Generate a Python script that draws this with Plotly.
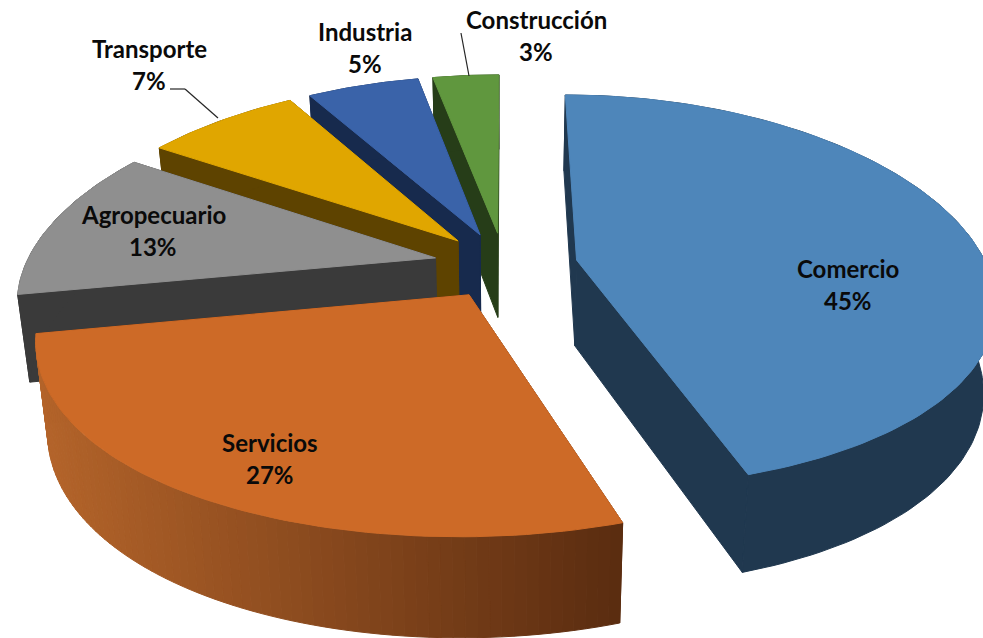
import numpy as np
import plotly.graph_objects as go

# Data
sectors = ["Comercio", "Servicios", "Agropecuario", "Transporte", "Industria", "Construcción"]
shares = [45.2, 26.8, 13.0, 7.0, 5.0, 3.0]
percent_labels = ["45%", "27%", "13%", "7%", "5%", "3%"]

# Styles
top_colors = ["#4e86ba", "#cd6a27", "#8f8f8f", "#e0a600", "#3a63a9", "#60973e"]
side_colors = ["#20384f", "#5a2c10", "#3a3a3a", "#5e4300", "#172a4d", "#263d18"]
wall_left_rgb = (180, 100, 42)
wall_right_rgb = (90, 44, 16)
paint_order = [5, 4, 3, 2, 0, 1]
label_xy = [(848, 268), (270, 442), (153, 214), (149, 48), (365, 31), (536, 19)]
LINE_GAP = 32
slice_nudge = [(5, 0), (3, 1), (0, 0), (0, 0), (0, 0), (1, 0)]

# Perspective camera of the tilted pie, in page pixels
CX, CY = 503, 265
AX, BY = 410, 193
KX, KY = 0.20, 0.16
DEPTH, KD = 86, 0.13
CONVERGE = 0.025
EXPLODE = 0.17
SKEW = np.radians(3.0)   # angular skew of the view rotation
SKEW_ZERO = np.radians(260)
TOP_TRIM = np.radians(1.0)


def view_angle(a):
    return (a + SKEW * np.sin(2 * (a - SKEW_ZERO) + np.pi)
            - TOP_TRIM * np.clip(np.cos(a), 0, 1) ** 40)


def project(x, y, z):
    x, y = np.asarray(x, float), np.asarray(y, float)
    sx = CX + AX * x / (1 + KX * y)
    sy = CY - BY * y / (1 + KY * y)
    if z:
        sx = CX + (sx - CX) * (1 - CONVERGE)
        sy = sy + DEPTH / (1 + KD * y)
    return sx, sy


def poly(fig, xs, ys, color, nudge):
    xs = [v + nudge[0] for v in xs]
    ys = [v + nudge[1] for v in ys]
    fig.add_trace(go.Scatter(
        x=xs + [xs[0]], y=ys + [ys[0]], mode="lines", fill="toself",
        fillcolor=color, line=dict(color=color, width=1), hoverinfo="skip", showlegend=False))


fig = go.Figure()
total = sum(shares)
edges = np.cumsum([0] + shares) / total * 2 * np.pi

for i in paint_order:
    a0, a1 = edges[i], edges[i + 1]
    mid = (a0 + a1) / 2
    ox, oy = EXPLODE * np.sin(mid), EXPLODE * np.cos(mid)
    t = view_angle(np.linspace(a0, a1, max(int(shares[i] * 3), 24)))
    ax_, ay_ = ox + np.sin(t), oy + np.cos(t)
    nudge = slice_nudge[i]

    # radial faces
    for k in (-1, 0):
        tx, ty = project([ox, ax_[k]], [oy, ay_[k]], 0)
        bx, by = project([ox, ax_[k]], [oy, ay_[k]], 1)
        poly(fig, [tx[0], tx[1], bx[1], bx[0]], [ty[0], ty[1], by[1], by[0]], side_colors[i], nudge)

    # outer wall
    tx, ty = project(ax_, ay_, 0)
    bx, by = project(ax_, ay_, 1)
    if sectors[i] == "Servicios":
        n = len(t) - 1
        lo, hi = tx.min(), tx.max()
        for j in range(n):
            f = ((tx[j] + tx[j + 1]) / 2 - lo) / (hi - lo)
            c = [round(wall_left_rgb[q] + (wall_right_rgb[q] - wall_left_rgb[q]) * f) for q in range(3)]
            poly(fig, [tx[j], tx[j + 1], bx[j + 1], bx[j]], [ty[j], ty[j + 1], by[j + 1], by[j]],
                 f"rgb({c[0]},{c[1]},{c[2]})", nudge)
    else:
        poly(fig, list(tx) + list(bx[::-1]), list(ty) + list(by[::-1]), side_colors[i], nudge)

    # top face
    px, py = project(ox, oy, 0)
    poly(fig, [float(px)] + list(tx), [float(py)] + list(ty), top_colors[i], nudge)

annotations = []
for name, pct, (lx, ly) in zip(sectors, percent_labels, label_xy):
    for text, yy in ((name, ly), (pct, ly + LINE_GAP)):
        annotations.append(dict(x=lx, y=yy, xref="x", yref="y", text=f"<b>{text}</b>", showarrow=False,
                                xanchor="center", yanchor="middle",
                                font=dict(family="Lato", size=24, color="#0a0a0a")))

leader = dict(type="line", xref="x", yref="y", line=dict(color="#262626", width=1.2), layer="above")
shapes = [
    dict(leader, x0=170, y0=89, x1=185, y1=89),
    dict(leader, x0=185, y0=89, x1=218, y1=118),
    dict(leader, x0=461, y0=33, x1=469, y1=76),
]

fig.update_layout(
    width=983, height=638, margin=dict(l=0, r=0, t=0, b=0),
    paper_bgcolor="white", plot_bgcolor="white", showlegend=False,
    xaxis=dict(range=[0, 983], visible=False, fixedrange=True),
    yaxis=dict(range=[638, 0], visible=False, fixedrange=True),
    annotations=annotations, shapes=shapes,
)
fig.write_html("out.html", config=dict(displayModeBar=False),
               post_script="document.body.style.margin='0';document.body.style.overflow='hidden';")
